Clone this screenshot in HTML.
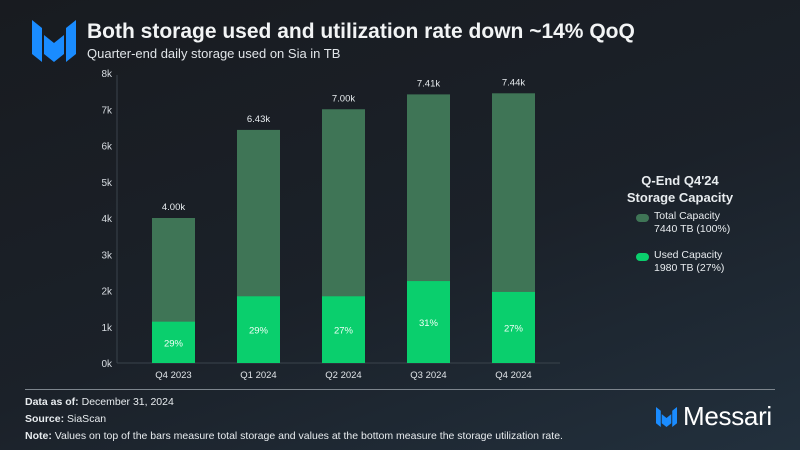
<!DOCTYPE html>
<html><head><meta charset="utf-8"><style>
body{margin:0;width:800px;height:450px;overflow:hidden;background:linear-gradient(160deg,#181b20 0%,#1b2129 55%,#22303d 100%);font-family:"Liberation Sans",sans-serif;color:#e8ecef;position:relative}
.abs{position:absolute}
</style></head><body>
<svg class="abs" style="left:32px;top:20px" width="44" height="42" viewBox="0 0 44 42">
<polygon points="0,0 10,8 10,42 0,34" fill="#1a8cff"/><polygon points="12,15 22,23 22,42 12,34" fill="#1a8cff"/><polygon points="32,15 22,23 22,42 32,34" fill="#1a8cff"/><polygon points="44,0 34,8 34,42 44,34" fill="#1a8cff"/>
</svg>
<div class="abs" style="left:87px;top:20px;font-size:21px;font-weight:bold;color:#f2f4f5">Both storage used and utilization rate down ~14% QoQ</div>
<div class="abs" style="left:87px;top:46px;font-size:13px;color:#e0e4e8">Quarter-end daily storage used on Sia in TB</div>
<svg id="chart" class="abs" style="left:0;top:0" width="800" height="400"></svg>
<div class="abs" style="left:600px;top:172px;width:160px;text-align:center;font-weight:bold;font-size:13px;line-height:17px">Q-End Q4'24<br>Storage Capacity</div>
<div class="abs" style="left:636px;top:214px;width:13px;height:8px;border-radius:4px;background:#3f7556"></div>
<div class="abs" style="left:654px;top:210px;font-size:10.5px;line-height:13px">Total Capacity<br>7440 TB (100%)</div>
<div class="abs" style="left:636px;top:253px;width:13px;height:8px;border-radius:4px;background:#0acf6d"></div>
<div class="abs" style="left:654px;top:249px;font-size:10.5px;line-height:13px">Used Capacity<br>1980 TB (27%)</div>
<div class="abs" style="left:25px;top:389px;width:750px;height:1px;background:#7d858d"></div>
<div class="abs" style="left:25px;top:394px;font-size:10.5px;line-height:17px;color:#e8ecef">
<div><b>Data as of:</b> December 31, 2024</div>
<div><b>Source:</b> SiaScan</div>
<div><b>Note:</b> Values on top of the bars measure total storage and values at the bottom measure the storage utilization rate.</div>
</div>
<svg class="abs" style="left:656px;top:405px" width="21" height="24" viewBox="0 0 44 42">
<polygon points="0,0 10,8 10,42 0,34" fill="#1a8cff"/><polygon points="12,15 22,23 22,42 12,34" fill="#1a8cff"/><polygon points="32,15 22,23 22,42 32,34" fill="#1a8cff"/><polygon points="44,0 34,8 34,42 44,34" fill="#1a8cff"/>
</svg>
<div class="abs" style="left:683px;top:401px;font-size:26px;letter-spacing:-0.3px;color:#fff">Messari</div>
<script>
const categories=["Q4 2023","Q1 2024","Q2 2024","Q3 2024","Q4 2024"];
const totalValues=[4.00,6.43,7.00,7.41,7.44];
const usedValues=[1.14,1.84,1.84,2.26,1.96];
const totalLabels=["4.00k","6.43k","7.00k","7.41k","7.44k"];
const utilLabels=["29%","29%","27%","31%","27%"];
const yTicks=[0,1,2,3,4,5,6,7,8];
const NS="http://www.w3.org/2000/svg";
const svg=document.getElementById('chart');
const y=v=>363-v*36.25;
const xb=i=>152+i*85;
const bw=43;
function mk(t,a,txt){const e=document.createElementNS(NS,t);for(const k in a)e.setAttribute(k,a[k]);if(txt!=null)e.textContent=txt;svg.appendChild(e);return e;}
const ax=mk('line',{x1:117,y1:75,x2:117,y2:363,stroke:'#3a434c','stroke-width':1});


const bx=mk('line',{x1:117,y1:363,x2:560,y2:363,stroke:'#3a434c','stroke-width':1});


yTicks.forEach(t=>{const e=mk('text',{x:112,y:y(t)+4,'text-anchor':'end','font-size':10,fill:'#d8dde2'},t+'k');

});
categories.forEach((c,i)=>{
const x=xb(i);
const r1=mk('rect',{x:x,y:y(totalValues[i]),width:bw,height:y(0)-y(totalValues[i]),fill:'#3f7556'});


const r2=mk('rect',{x:x,y:y(usedValues[i]),width:bw,height:y(0)-y(usedValues[i]),fill:'#0acf6d'});


const t1=mk('text',{x:x+bw/2,y:y(totalValues[i])-8,'text-anchor':'middle','font-size':9.5,fill:'#e8ecef'},totalLabels[i]);


const t2=mk('text',{x:x+bw/2,y:(y(usedValues[i])+y(0))/2+4,'text-anchor':'middle','font-size':9.5,fill:'#f0fff6'},utilLabels[i]);


const t3=mk('text',{x:x+bw/2,y:378,'text-anchor':'middle','font-size':9.5,fill:'#e0e4e8'},c);


});
</script>
</body></html>
